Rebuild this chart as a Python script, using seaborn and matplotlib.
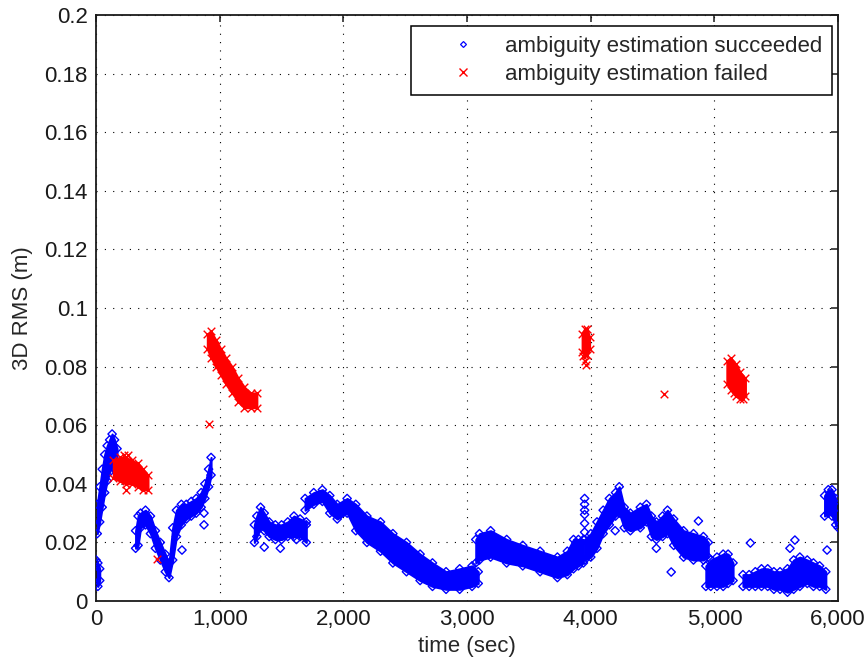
import pandas as pd
import numpy as np
import matplotlib
matplotlib.use('Agg')
import matplotlib.pyplot as plt
import matplotlib.ticker as mticker
from matplotlib.lines import Line2D
import seaborn as sns

sns.set_style('white')
plt.rcParams['font.family'] = ['Liberation Sans', 'DejaVu Sans']

# ------------------------------------------------------------
# data: time (sec), lower / upper edge of each cloud (m)
# ------------------------------------------------------------
# succeeded (blue)
seg_a_t = [0, 15, 30]
seg_a_lo = [0.006, 0.005, 0.007]
seg_a_hi = [0.014, 0.013, 0.011]

seg_b_t = [10, 30, 50, 70, 90, 110, 130, 150, 170]
seg_b_lo = [0.023, 0.027, 0.032, 0.037, 0.041, 0.044, 0.046, 0.045, 0.044]
seg_b_hi = [0.033, 0.039, 0.045, 0.050, 0.053, 0.055, 0.057, 0.055, 0.052]

seg_c_t = [320, 340, 360, 400, 440, 480, 520, 560, 590, 620, 650, 690, 730, 770, 810, 850, 880, 910, 930]
seg_c_lo = [0.018, 0.019, 0.025, 0.026, 0.023, 0.018, 0.014, 0.010, 0.008, 0.014, 0.022, 0.026, 0.028,
            0.029, 0.030, 0.032, 0.035, 0.039, 0.043]
seg_c_hi = [0.024, 0.029, 0.030, 0.031, 0.029, 0.024, 0.020, 0.016, 0.013, 0.025, 0.031, 0.033, 0.033,
            0.034, 0.035, 0.037, 0.040, 0.045, 0.049]

seg_d_t = [1280, 1300, 1330, 1360, 1400, 1450, 1500, 1550, 1600, 1650, 1700]
seg_d_lo = [0.020, 0.022, 0.025, 0.024, 0.022, 0.021, 0.021, 0.022, 0.022, 0.022, 0.020]
seg_d_hi = [0.026, 0.029, 0.032, 0.030, 0.027, 0.026, 0.026, 0.027, 0.029, 0.028, 0.027]

seg_e_t = [1690, 1760, 1830, 1890, 1950, 2030, 2100, 2190, 2300, 2400, 2510, 2620, 2720, 2830, 2940, 3040, 3090]
seg_e_lo = [0.031, 0.033, 0.034, 0.030, 0.028, 0.030, 0.024, 0.020, 0.017, 0.013, 0.010, 0.007, 0.005,
            0.004, 0.004, 0.005, 0.006]
seg_e_hi = [0.035, 0.037, 0.038, 0.036, 0.033, 0.035, 0.033, 0.029, 0.027, 0.023, 0.020, 0.016, 0.013,
            0.010, 0.011, 0.012, 0.010]

seg_f_t = [3070, 3100, 3190, 3320, 3450, 3590, 3730, 3810, 3860, 3900, 3940]
seg_f_lo = [0.013, 0.014, 0.015, 0.013, 0.012, 0.010, 0.008, 0.009, 0.011, 0.012, 0.013]
seg_f_hi = [0.021, 0.023, 0.024, 0.021, 0.019, 0.017, 0.015, 0.017, 0.021, 0.021, 0.021]

seg_g_t = [3950, 4000, 4050, 4100, 4150, 4200, 4230, 4270, 4320, 4400, 4450, 4490, 4530, 4580, 4620,
           4670, 4750, 4830, 4910, 4950]
seg_g_lo = [0.014, 0.015, 0.018, 0.023, 0.026, 0.029, 0.030, 0.025, 0.024, 0.025, 0.027, 0.022, 0.021,
            0.022, 0.023, 0.019, 0.015, 0.014, 0.014, 0.015]
seg_g_hi = [0.021, 0.023, 0.027, 0.031, 0.035, 0.037, 0.039, 0.032, 0.030, 0.032, 0.033, 0.029, 0.027,
            0.029, 0.031, 0.028, 0.024, 0.023, 0.022, 0.020]

seg_h_t = [4930, 4970, 5020, 5070, 5110, 5150]
seg_h_lo = [0.005, 0.005, 0.005, 0.005, 0.006, 0.007]
seg_h_hi = [0.012, 0.014, 0.015, 0.016, 0.016, 0.013]

seg_i_t = [5230, 5280, 5330, 5380, 5430, 5480, 5530, 5590, 5640, 5690, 5750, 5800, 5850, 5900]
seg_i_lo = [0.005, 0.005, 0.005, 0.005, 0.005, 0.004, 0.004, 0.003, 0.004, 0.005, 0.006, 0.005, 0.005, 0.004]
seg_i_hi = [0.009, 0.009, 0.010, 0.011, 0.011, 0.010, 0.010, 0.011, 0.014, 0.015, 0.014, 0.013, 0.012, 0.010]

seg_j_t = [5890, 5920, 5950, 5980, 6000]
seg_j_lo = [0.029, 0.030, 0.029, 0.026, 0.025]
seg_j_hi = [0.036, 0.038, 0.038, 0.035, 0.032]

ok_single_t = [695, 873, 873, 1360, 1490, 1620, 1700, 3950, 3950, 3950, 3950, 3950, 3950,
               4197, 4530, 4650, 4870, 5290, 5610, 5650, 5910]
ok_single_y = [0.0174, 0.030, 0.026, 0.0184, 0.018, 0.021, 0.026, 0.035, 0.033, 0.031, 0.0295, 0.0265,
               0.0235, 0.024, 0.018, 0.0099, 0.0273, 0.0198, 0.018, 0.0208, 0.0174]

# failed (red)
fail_a_t = [140, 190, 240, 290, 340, 380, 420]
fail_a_lo = [0.042, 0.041, 0.040, 0.040, 0.039, 0.038, 0.038]
fail_a_hi = [0.048, 0.049, 0.049, 0.048, 0.047, 0.045, 0.043]

fail_b_t = [900, 930, 970, 1010, 1050, 1100, 1150, 1200, 1250, 1300]
fail_b_lo = [0.086, 0.083, 0.080, 0.077, 0.074, 0.071, 0.068, 0.066, 0.066, 0.066]
fail_b_hi = [0.091, 0.092, 0.089, 0.086, 0.083, 0.080, 0.076, 0.073, 0.071, 0.071]

fail_c_t = [3930, 3950, 3970, 3990]
fail_c_lo = [0.085, 0.084, 0.084, 0.086]
fail_c_hi = [0.091, 0.093, 0.093, 0.090]

fail_d_t = [5100, 5130, 5170, 5210, 5250]
fail_d_lo = [0.074, 0.072, 0.070, 0.069, 0.070]
fail_d_hi = [0.082, 0.083, 0.081, 0.078, 0.076]

fail_single_t = [230, 240, 260, 490, 915, 3940, 3950, 3960, 4590, 5160, 5230]
fail_single_y = [0.050, 0.038, 0.050, 0.0143, 0.0605, 0.0835, 0.082, 0.0805, 0.0705, 0.071, 0.069]

BLUE = '#0000ff'
RED = '#ff0000'

blue_segs = [(seg_a_t, seg_a_lo, seg_a_hi), (seg_b_t, seg_b_lo, seg_b_hi),
             (seg_c_t, seg_c_lo, seg_c_hi), (seg_d_t, seg_d_lo, seg_d_hi),
             (seg_e_t, seg_e_lo, seg_e_hi), (seg_f_t, seg_f_lo, seg_f_hi),
             (seg_g_t, seg_g_lo, seg_g_hi), (seg_h_t, seg_h_lo, seg_h_hi),
             (seg_i_t, seg_i_lo, seg_i_hi), (seg_j_t, seg_j_lo, seg_j_hi)]
red_segs = [(fail_a_t, fail_a_lo, fail_a_hi), (fail_b_t, fail_b_lo, fail_b_hi),
            (fail_c_t, fail_c_lo, fail_c_hi), (fail_d_t, fail_d_lo, fail_d_hi)]

fig = plt.figure(figsize=(8.65, 6.65), dpi=100)
ax = fig.add_axes([0.111, 0.0962, 0.858, 0.8812])

# blue clouds: solid body + diamond markers on the edges
edge_rows = []
for t, lo, hi in blue_segs:
    ax.fill_between(t, lo, hi, color=BLUE, lw=1.5, edgecolor=BLUE, zorder=2)
    edge_rows += [(a, b) for a, b in zip(t, lo)] + [(a, b) for a, b in zip(t, hi)]
edge_rows += list(zip(ok_single_t, ok_single_y))
blue_df = pd.DataFrame(edge_rows, columns=['time', 'rms'])
sns.scatterplot(data=blue_df, x='time', y='rms', ax=ax, marker='D', s=18,
                facecolor='none', edgecolor=BLUE, linewidth=1.0, zorder=3)

# red clouds: solid body + x markers on the edges
red_rows = []
for t, lo, hi in red_segs:
    ax.fill_between(t, lo, hi, color=RED, lw=1.5, edgecolor=RED, zorder=4)
    red_rows += [(a, b) for a, b in zip(t, lo)] + [(a, b) for a, b in zip(t, hi)]
red_rows += list(zip(fail_single_t, fail_single_y))
red_df = pd.DataFrame(red_rows, columns=['time', 'rms'])
sns.scatterplot(data=red_df, x='time', y='rms', ax=ax, marker='x', s=30,
                color=RED, linewidth=1.0, zorder=5)

# MATLAB-like axes
ax.set_xlim(0, 6000)
ax.set_ylim(0, 0.2)
ax.set_xticks(np.arange(0, 6001, 1000))
ax.set_yticks(np.arange(0, 0.2001, 0.02))
ax.xaxis.set_major_formatter(mticker.FuncFormatter(lambda v, p: f'{int(v):,}'))
ax.yaxis.set_major_formatter(mticker.FuncFormatter(lambda v, p: f'{v:.2f}'.rstrip('0').rstrip('.') if v else '0'))
ax.grid(True, color='black', linestyle=(0, (1, 6.5)), linewidth=0.8)
ax.set_axisbelow(True)
ax.tick_params(direction='in', length=5, width=1.1, top=True, right=True,
               labelsize=16, colors='#1a1a1a', pad=6)
for sp in ax.spines.values():
    sp.set_color('#1a1a1a')
    sp.set_linewidth(1.3)
ax.set_xlabel('time (sec)', fontsize=16, labelpad=4)
ax.set_ylabel('3D RMS (m)', fontsize=16, labelpad=8)

handles = [Line2D([], [], ls='none', marker='D', ms=3, mfc='none', mec=BLUE, mew=0.9),
           Line2D([], [], ls='none', marker='x', ms=6, color=RED, mew=1.0)]
leg = ax.legend(handles, ['ambiguity estimation succeeded', 'ambiguity estimation failed'],
                loc='upper right', bbox_to_anchor=(0.992, 0.981), borderaxespad=0,
                fontsize=16, frameon=True, fancybox=False, framealpha=1,
                edgecolor='black', borderpad=0.45, handlelength=3.8, handletextpad=0.0,
                labelspacing=0.3)
leg.get_frame().set_linewidth(1.1)

plt.savefig('out.png', dpi=100)
plt.close()
